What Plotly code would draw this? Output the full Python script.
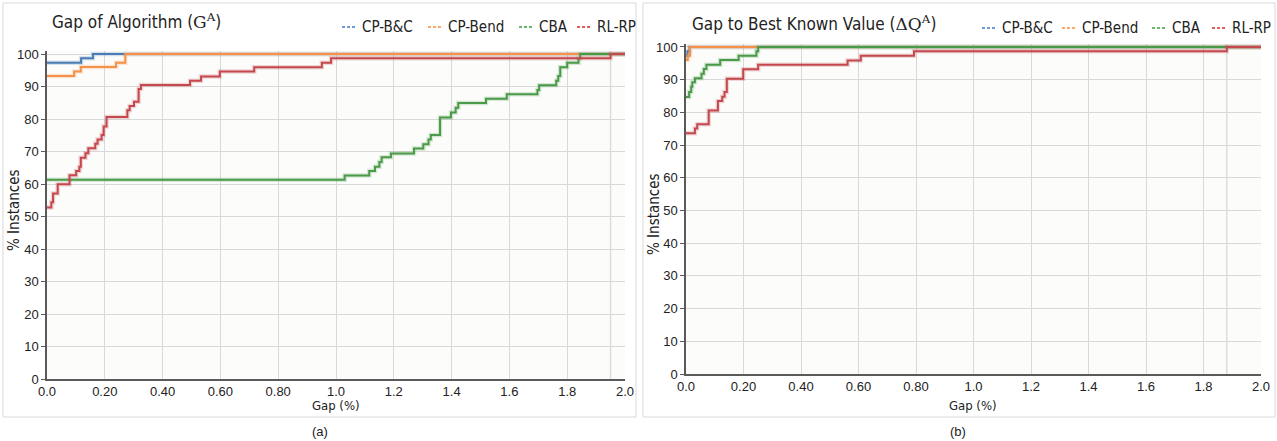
import plotly.graph_objects as go

W, H = 1277, 441

series_names = ["CP-B&C", "CP-Bend", "CBA", "RL-RP"]
line_colors = ["#4a7db5", "#f7914a", "#4b9a4b", "#c4484e"]
legend_colors = ["#3f78d0", "#ff8c3a", "#3aa03a", "#d42b2b"]

# Panel (a): Gap of Algorithm
a_bc_x = [0, 0.118, 0.159, 2.0]
a_bc_y = [97.3, 98.7, 100, 100]
a_bend_x = [0, 0.094, 0.117, 0.239, 0.271, 2.0]
a_bend_y = [93.2, 94.6, 96.0, 97.3, 100, 100]
a_cba_x = [0, 1.03, 1.115, 1.135, 1.150, 1.158, 1.190, 1.270, 1.302, 1.320, 1.328,
           1.360, 1.398, 1.414, 1.423, 1.519, 1.591, 1.697, 1.703, 1.762, 1.769,
           1.776, 1.800, 1.839, 1.845, 2.0]
a_cba_y = [61.3, 62.6, 64.0, 65.3, 66.8, 68.2, 69.4, 70.9, 72.2, 73.7, 75.1,
           80.5, 82.0, 83.5, 84.9, 86.2, 87.6, 88.9, 90.4, 91.8, 93.2,
           95.9, 97.3, 98.6, 100, 100]
a_rl_x = [0, 0.015, 0.021, 0.037, 0.078, 0.101, 0.112, 0.117, 0.133, 0.143, 0.167,
          0.175, 0.189, 0.196, 0.206, 0.278, 0.286, 0.301, 0.317, 0.325, 0.495,
          0.533, 0.598, 0.717, 0.951, 0.983, 1.95, 2.0]
a_rl_y = [52.8, 54.4, 57.1, 59.9, 62.7, 64.0, 65.3, 68.1, 69.5, 71.0, 72.4,
          73.7, 75.1, 77.7, 80.6, 82.7, 84.0, 85.3, 89.2, 90.5, 91.8,
          93.1, 94.6, 95.9, 97.3, 98.7, 100, 100]
a_extra_grid = 1.95

# Panel (b): Gap to Best Known Value
b_bc_x = [0, 0.005, 0.012, 2.0]
b_bc_y = [97.3, 98.7, 100, 100]
b_bend_x = [0, 0.006, 0.014, 2.0]
b_bend_y = [96.0, 97.3, 100, 100]
b_cba_x = [0, 0.011, 0.018, 0.022, 0.031, 0.054, 0.062, 0.071, 0.119, 0.183, 0.245, 0.251, 2.0]
b_cba_y = [84.7, 86.2, 87.8, 89.2, 90.4, 91.8, 93.3, 94.6, 96.0, 97.3, 98.7, 100, 100]
b_rl_x = [0, 0.031, 0.039, 0.079, 0.111, 0.126, 0.134, 0.142, 0.199, 0.251, 0.562,
          0.608, 0.793, 1.881, 2.0]
b_rl_y = [73.6, 75.1, 76.4, 80.6, 83.5, 84.8, 86.2, 90.3, 93.2, 94.6, 95.9,
          97.3, 98.7, 100, 100]
b_extra_grid = 1.881

x_tickvals = [0, 0.2, 0.4, 0.6, 0.8, 1.0, 1.2, 1.4, 1.6, 1.8, 2.0]
x_ticktext = ["0.0", "0.20", "0.40", "0.60", "0.80", "1.0", "1.2", "1.4", "1.6", "1.8", "2.0"]
y_tickvals = [0, 10, 20, 30, 40, 50, 60, 70, 80, 90, 100]

# legend key positions (pixels): dash start for each entry, legend row y
a_legend_px = [342, 428, 519, 577]
a_legend_y = 27
b_legend_px = [982, 1062, 1152, 1212]
b_legend_y = 28

panels = [
    dict(xs=[a_bc_x, a_bend_x, a_cba_x, a_rl_x], ys=[a_bc_y, a_bend_y, a_cba_y, a_rl_y],
         xa="x", ya="y", extra=a_extra_grid, lx=a_legend_px, ly=a_legend_y),
    dict(xs=[b_bc_x, b_bend_x, b_cba_x, b_rl_x], ys=[b_bc_y, b_bend_y, b_cba_y, b_rl_y],
         xa="x2", ya="y2", extra=b_extra_grid, lx=b_legend_px, ly=b_legend_y),
]


def px(v):
    return v / W


def py(v):
    return (H - v) / H


FONT_T = "Liberation Sans Narrow, DejaVu Sans Condensed, Roboto, sans-serif"
FONT_N = "Liberation Sans, Arial, sans-serif"

fig = go.Figure()
for p in panels:
    for name, xs, ys, col in zip(series_names, p["xs"], p["ys"], line_colors):
        fig.add_trace(go.Scatter(x=xs, y=ys, mode="lines", line=dict(color=col, width=4.5, shape="hv"),
                                 opacity=0.22, showlegend=False, hoverinfo="skip",
                                 xaxis=p["xa"], yaxis=p["ya"]))
        fig.add_trace(go.Scatter(x=xs, y=ys, mode="lines", line=dict(color=col, width=2, shape="hv"),
                                 name=name, showlegend=False, xaxis=p["xa"], yaxis=p["ya"]))

axis_common = dict(range=[0, 2.0], tickvals=x_tickvals, ticktext=x_ticktext, automargin=False,
                   showgrid=True, gridcolor="#d9d9d9", gridwidth=1.3, zeroline=False,
                   showline=True, linecolor="#5a5a5a", linewidth=1.5,
                   ticks="", tickfont=dict(family=FONT_N, size=13, color="#222"))
yaxis_common = dict(range=[0, 101], tickvals=y_tickvals, automargin=False, showgrid=True,
                    gridcolor="#d9d9d9", gridwidth=1.3, zeroline=False, showline=True,
                    linecolor="#5a5a5a", linewidth=1.5, ticks="outside", ticklen=4,
                    tickcolor="#5a5a5a", tickfont=dict(family=FONT_N, size=13, color="#222"))

fig.update_layout(
    width=W, height=H, margin=dict(l=0, r=0, t=0, b=0, autoexpand=False),
    paper_bgcolor="white", plot_bgcolor="#fcfdfa", showlegend=False,
    xaxis=dict(domain=[px(47), px(625)], anchor="y", **axis_common),
    yaxis=dict(domain=[py(379), py(50.75)], anchor="x", **yaxis_common),
    xaxis2=dict(domain=[px(686), px(1261)], anchor="y2", **axis_common),
    yaxis2=dict(domain=[py(374), py(43.7)], anchor="x2", **yaxis_common),
)

shapes = [
    dict(type="rect", xref="paper", yref="paper", x0=px(3), x1=px(636), y0=py(417), y1=py(3),
         line=dict(color="#d9d9d9", width=1), fillcolor="rgba(0,0,0,0)", layer="below"),
    dict(type="rect", xref="paper", yref="paper", x0=px(643), x1=px(1275), y0=py(417), y1=py(3),
         line=dict(color="#d9d9d9", width=1), fillcolor="rgba(0,0,0,0)", layer="below"),
]
for p in panels:
    shapes.append(dict(type="line", xref=p["xa"], yref=p["ya"], x0=p["extra"], x1=p["extra"],
                       y0=0, y1=101, line=dict(color="#d9d9d9", width=1.3), layer="below"))

serif = "DejaVu Serif, Liberation Serif, serif"
ann = [
    dict(x=px(50), y=py(21), text=f"Gap of Algorithm (<span style='font-family:{serif}'>G<sup>A</sup></span>)",
         xanchor="left", yanchor="middle", font=dict(family=FONT_T, size=17, color="#222")),
    dict(x=px(690), y=py(23), text=f"Gap to Best Known Value (<span style='font-family:{serif}'>ΔQ<sup>A</sup></span>)",
         xanchor="left", yanchor="middle", font=dict(family=FONT_T, size=17, color="#222")),
    dict(x=px(14), y=py(210), text="% Instances", textangle=-90, xanchor="center", yanchor="middle",
         font=dict(family=FONT_T, size=15, color="#222")),
    dict(x=px(654), y=py(214), text="% Instances", textangle=-90, xanchor="center", yanchor="middle",
         font=dict(family=FONT_T, size=15, color="#222")),
    dict(x=px(336), y=py(405), text="Gap (%)", xanchor="center", yanchor="middle",
         font=dict(family=FONT_T, size=13, color="#222")),
    dict(x=px(973), y=py(405), text="Gap (%)", xanchor="center", yanchor="middle",
         font=dict(family=FONT_T, size=13, color="#222")),
    dict(x=px(320), y=py(431), text="(a)", xanchor="center", yanchor="middle",
         font=dict(family=FONT_N, size=13, color="#222")),
    dict(x=px(958), y=py(431), text="(b)", xanchor="center", yanchor="middle",
         font=dict(family=FONT_N, size=13, color="#222")),
]

# legend keys: short dashed line + label
for p in panels:
    for name, col, x0 in zip(series_names, legend_colors, p["lx"]):
        shapes.append(dict(type="line", xref="paper", yref="paper", x0=px(x0), x1=px(x0 + 15),
                           y0=py(p["ly"]), y1=py(p["ly"]),
                           line=dict(color=col, width=1.6, dash="3px,2px")))
        ann.append(dict(x=px(x0 + 18), y=py(p["ly"]), text=name, xanchor="left", yanchor="middle",
                        font=dict(family=FONT_T, size=15, color="#222")))

for a in ann:
    a.update(xref="paper", yref="paper", showarrow=False)
fig.update_layout(shapes=shapes, annotations=ann)

fig.write_html("out.html", config={"displayModeBar": False},
               post_script="document.body.style.margin='0';")
